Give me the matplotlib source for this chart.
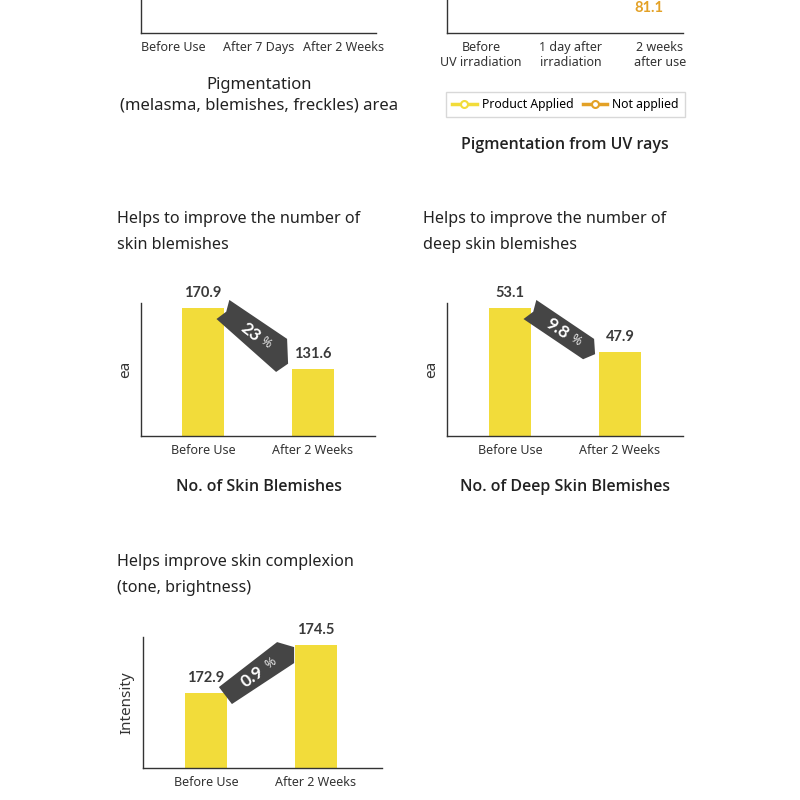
"""Infographic: skin pigmentation / blemish / tone results."""

import math

import matplotlib

matplotlib.use("Agg")
import matplotlib.pyplot as plt
from matplotlib.lines import Line2D
from matplotlib.patches import Polygon

W = H = 800

# ---- data -------------------------------------------------------------
area_cats = ["Before Use", "After 7 Days", "After 2 Weeks"]
uv_cats = ["Before\nUV irradiation", "1 day after\nirradiation", "2 weeks\nafter use"]
uv_series = ["Product Applied", "Not applied"]
uv_not_applied_last = 81.1

blem_cats = ["Before Use", "After 2 Weeks"]
blem_vals = [170.9, 131.6]
blem_change = "23"

deep_cats = ["Before Use", "After 2 Weeks"]
deep_vals = [53.1, 47.9]
deep_change = "9.8"

tone_cats = ["Before Use", "After 2 Weeks"]
tone_vals = [172.9, 174.5]
tone_change = "0.9"

YELLOW = "#F2DC3A"
ORANGE = "#E3A126"
RIBBON = "#454545"
INK = "#222222"
LABEL = "#3a3a3a"

plt.rcParams.update(
    {
        "font.family": ["Noto Sans", "DejaVu Sans"],
        "axes.edgecolor": "#333333",
        "axes.linewidth": 1.0,
    }
)

fig = plt.figure(figsize=(8, 8), dpi=100)
fig.patch.set_facecolor("white")


def px_axes(left, top, right, bottom):
    return fig.add_axes([left / W, 1 - bottom / H, (right - left) / W, (bottom - top) / H])


def fxy(x, y):
    """pixel (y down) -> figure fraction"""
    return x / W, 1 - y / H


def to_px(ax, x, y):
    dx, dy = ax.transData.transform((x, y))
    return dx, H - dy


def style(ax, cats, xlim, ylim):
    ax.set_xlim(*xlim)
    ax.set_ylim(*ylim)
    for side in ("top", "right"):
        ax.spines[side].set_visible(False)
    ax.set_xticks(range(len(cats)))
    ax.set_xticklabels(cats, fontsize=9, color="#333333", linespacing=1.2)
    ax.set_yticks([])
    ax.tick_params(axis="x", length=0, pad=6)
    ax.patch.set_alpha(0)


def bars(ax, vals):
    ax.bar(range(len(vals)), vals, width=0.38, color=YELLOW, zorder=2)
    for i, v in enumerate(vals):
        ax.annotate(f"{v:.1f}", (i, v), xytext=(0, 6), textcoords="offset points",
                    ha="center", va="bottom", fontsize=10.5, fontweight="bold",
                    color=LABEL, family=["Lato", "DejaVu Sans"])


def pct_text(c, ang, num):
    d = (math.cos(math.radians(ang)), -math.sin(math.radians(ang)))
    fig.text(*fxy(c[0] - d[0] * 4, c[1] - d[1] * 4), num, rotation=ang,
             rotation_mode="anchor", ha="center", va="center", fontsize=12.5,
             fontweight="bold", color="white", family=["Lato", "DejaVu Sans"], zorder=6)
    w = 3.4 * len(num) + 7
    fig.text(*fxy(c[0] + d[0] * w + 1, c[1] + d[1] * w - 1), "%", rotation=ang,
             rotation_mode="anchor", ha="center", va="center", fontsize=9,
             color="#eeeeee", zorder=6)


def ribbon_down(ax, vals, num, bw=0.38):
    p0 = to_px(ax, 0 + bw / 2, vals[0])
    p1 = to_px(ax, 1 - bw / 2, vals[1])
    ang = math.radians(34)
    d = (math.cos(ang), math.sin(ang))
    nu = (math.sin(ang), -math.cos(ang))
    t = (p0[0] - 1, p0[1] + 1.5)
    a = (t[0] + nu[0] * 11.5, t[1] + nu[1] * 11.5)
    e = (t[0] - nu[0] * 11.5, t[1] - nu[1] * 11.5)
    f = (t[0] + d[0] * 4, t[1] + d[1] * 4)
    bx = p1[0] - 5
    b = (bx, a[1] + (bx - a[0]) * math.tan(ang))
    dx = p1[0] - 16
    d_pt = (dx, max(p1[1] + 3, e[1] + (dx - e[0]) * math.tan(ang)))
    c = (p1[0] - 4, b[1] + 0.75 * (d_pt[1] - b[1]))
    pts = [fxy(*p) for p in (a, b, c, d_pt, e, f)]
    fig.add_artist(Polygon(pts, closed=True, facecolor=RIBBON, edgecolor="none",
                           transform=fig.transFigure, zorder=5))
    hm = ((b[0] + d_pt[0]) / 2, (b[1] + d_pt[1]) / 2)
    rot = -math.degrees(math.atan2(hm[1] - t[1], hm[0] - t[0]))
    cen = (t[0] + 0.52 * (hm[0] - t[0]), t[1] + 0.55 * (hm[1] - t[1]))
    pct_text(cen, rot, num)


def ribbon_up(ax, vals, num, bw=0.38):
    p0 = to_px(ax, 0 + bw / 2, vals[0])
    p1 = to_px(ax, 1 - bw / 2, vals[1])
    tl = (p0[0] - 8, p0[1] - 6)
    tab = (p0[0] + 5, p0[1] + 11)
    htop = (p1[0] - 18, p1[1] - 3)
    htr = (p1[0] - 1, p1[1] + 2)
    hbr = (p1[0] - 1, p1[1] + 18)
    pts = [fxy(*p) for p in (tl, htop, htr, hbr, tab)]
    fig.add_artist(Polygon(pts, closed=True, facecolor=RIBBON, edgecolor="none",
                           transform=fig.transFigure, zorder=5))
    tm = ((tl[0] + tab[0]) / 2, (tl[1] + tab[1]) / 2)
    hm = ((htop[0] + hbr[0]) / 2, (htop[1] + hbr[1]) / 2)
    rot = -math.degrees(math.atan2(hm[1] - tm[1], hm[0] - tm[0]))
    cen = ((tm[0] + hm[0]) / 2, (tm[1] + hm[1]) / 2)
    pct_text(cen, rot, num)


def heading(x, y, lines):
    for i, s in enumerate(lines):
        fig.text(*fxy(x, y + 2 + i * 26), s, ha="left", va="center", fontsize=11.6, color=INK)


def title(x, y, lines, weight="normal", size=12, family=None):
    for i, s in enumerate(lines):
        fig.text(*fxy(x, y + 2 + i * 21), s, ha="center", va="center", fontsize=size,
                 color=INK, fontweight=weight,
                 family=family or ["Noto Sans", "DejaVu Sans"])


SEMI = ["Open Sans", "Noto Sans", "DejaVu Sans"]

# ---- top-left: pigmentation area (cut off at top) ----------------------
ax1 = px_axes(141, -120, 376, 33)
style(ax1, area_cats, (-0.375, 2.375), (0, 1))
title(259, 83, ["Pigmentation", "(melasma, blemishes, freckles) area"])

# ---- top-right: pigmentation from UV rays (cut off at top) -------------
ax2 = px_axes(447, -120, 683, 33)
style(ax2, uv_cats, (-0.38, 2.26), (0, 100))
ax2.annotate(f"{uv_not_applied_last:.1f}", (2, 0.163), xycoords=("data", "axes fraction"),
             xytext=(-8, 0), textcoords="offset points", ha="center", va="center",
             fontsize=10.5, fontweight="bold", color=ORANGE, family=["Lato", "DejaVu Sans"])
handles = [
    Line2D([], [], color=YELLOW, lw=2.5, marker="o", ms=5, mfc="white", mec=YELLOW, mew=1.5),
    Line2D([], [], color=ORANGE, lw=2.5, marker="o", ms=5, mfc="white", mec=ORANGE, mew=1.5),
]
leg = fig.legend(handles, uv_series, loc="center", ncol=2, fontsize=8.8,
                 bbox_to_anchor=fxy(565.5, 104.5), frameon=True, fancybox=False,
                 edgecolor="#cfcfcf", borderpad=0.5, handlelength=2.0,
                 handletextpad=0.4, columnspacing=0.8, borderaxespad=0)
leg.get_frame().set_linewidth(1.0)
title(565, 143, ["Pigmentation from UV rays"], weight="semibold", size=11.5, family=SEMI)

# ---- middle-left: skin blemishes --------------------------------------
heading(117, 217, ["Helps to improve the number of", "skin blemishes"])
ax3 = px_axes(141, 303, 375, 436)
style(ax3, blem_cats, (-0.564, 1.564), (88.4, 174.1))
bars(ax3, blem_vals)
ax3.set_ylabel("ea", fontsize=11, color="#333333", labelpad=6)
ribbon_down(ax3, blem_vals, blem_change)
title(259, 485, ["No. of Skin Blemishes"], weight="semibold", size=11.5, family=SEMI)

# ---- middle-right: deep skin blemishes --------------------------------
heading(423, 217, ["Helps to improve the number of", "deep skin blemishes"])
ax4 = px_axes(447, 303, 683, 436)
style(ax4, deep_cats, (-0.573, 1.573), (37.97, 53.69))
bars(ax4, deep_vals)
ax4.set_ylabel("ea", fontsize=11, color="#333333", labelpad=6)
ribbon_down(ax4, deep_vals, deep_change)
title(565, 485, ["No. of Deep Skin Blemishes"], weight="semibold", size=11.5, family=SEMI)

# ---- bottom-left: skin complexion -------------------------------------
heading(117, 560, ["Helps improve skin complexion", "(tone, brightness)"])
ax5 = px_axes(143, 637, 382, 768)
style(ax5, tone_cats, (-0.573, 1.6), (170.4, 174.77))
bars(ax5, tone_vals)
ax5.set_ylabel("Intensity", fontsize=11, color="#333333", labelpad=6)
ribbon_up(ax5, tone_vals, tone_change)

fig.savefig("out.png", dpi=100)
